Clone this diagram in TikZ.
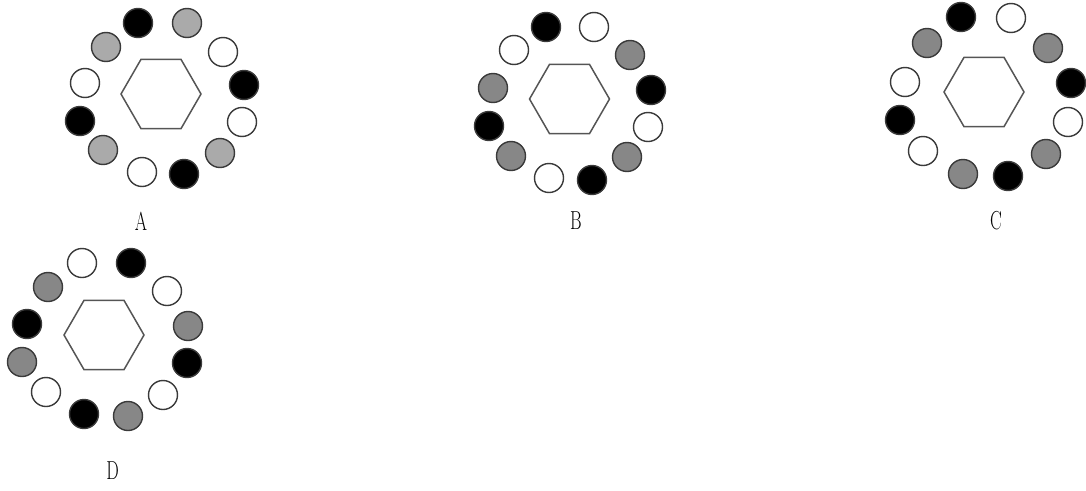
\documentclass[tikz,border=0pt]{standalone}
\usepackage{graphicx}
\usepackage{tikz}
\usetikzlibrary{shapes.geometric}
\definecolor{ballgrayA}{HTML}{AAAAAA}
\definecolor{ballgray}{HTML}{878787}
\definecolor{ballrim}{HTML}{3A3A3A}
\definecolor{hexline}{HTML}{555555}
\newcommand{\optlbl}[1]{\scalebox{0.68}[1]{#1}}
\tikzset{
  ball/.style={circle,draw=ballrim,line width=1.4pt,inner sep=0,minimum size=29pt},
  hexa/.style={regular polygon,regular polygon sides=6,draw=hexline,line width=1.5pt,inner sep=0,minimum size=80pt},
  optname/.style={font=\fontsize{26}{26}\selectfont,inner sep=0},
}
\begin{document}
\begin{tikzpicture}[x=1pt,y=-1pt]
  \useasboundingbox (0,0) rectangle (1086,490);
  % figure A
  \node[hexa] (hA) at (161,94) {};
  \foreach \cx/\cy/\cs [count=\ix] in {138/23/black,187/23/ballgrayA,223/52/white,244/85/black,242/122/white,220/153/ballgrayA,
      184/174/black,142/172/white,103/150/ballgrayA,80/121/black,85/83/white,106/47/ballgrayA}
    { \node[ball,fill=\cs] (a\ix) at (\cx,\cy) {}; }
  \node[optname] (lA) at (141,221) {\optlbl{A}};
  % figure B
  \node[hexa] (hB) at (569.5,99) {};
  \foreach \cx/\cy/\cs [count=\ix] in {546/27/black,594/27/white,630/55/ballgray,651/90/black,648/127/white,627/157/ballgray,
      592/180/black,549/178/white,511/156/ballgray,489/126/black,493/88/ballgray,514/50/white}
    { \node[ball,fill=\cs] (b\ix) at (\cx,\cy) {}; }
  \node[optname] (lB) at (576,221) {\optlbl{B}};
  % figure C
  \node[hexa] (hC) at (984,92) {};
  \foreach \cx/\cy/\cs [count=\ix] in {961/17/black,1011/18/white,1048/48/ballgray,1071/83/black,1068/122/white,1046/154/ballgray,
      1008/176/black,963/174/ballgray,923/151/white,900/120/black,905/82/white,927/43/ballgray}
    { \node[ball,fill=\cs] (c\ix) at (\cx,\cy) {}; }
  \node[optname] (lC) at (996,221) {\optlbl{C}};
  % figure D
  \node[hexa] (hD) at (104,335) {};
  \foreach \cx/\cy/\cs [count=\ix] in {82/263/white,131/263/black,167/291/white,188/326/ballgray,187/363/black,163/395/white,
      128/416/ballgray,84/414/black,46/392/white,22/362/ballgray,27/324/black,48/287/ballgray}
    { \node[ball,fill=\cs] (d\ix) at (\cx,\cy) {}; }
  \node[optname] (lD) at (112.5,471) {\optlbl{D}};
\end{tikzpicture}
\end{document}
